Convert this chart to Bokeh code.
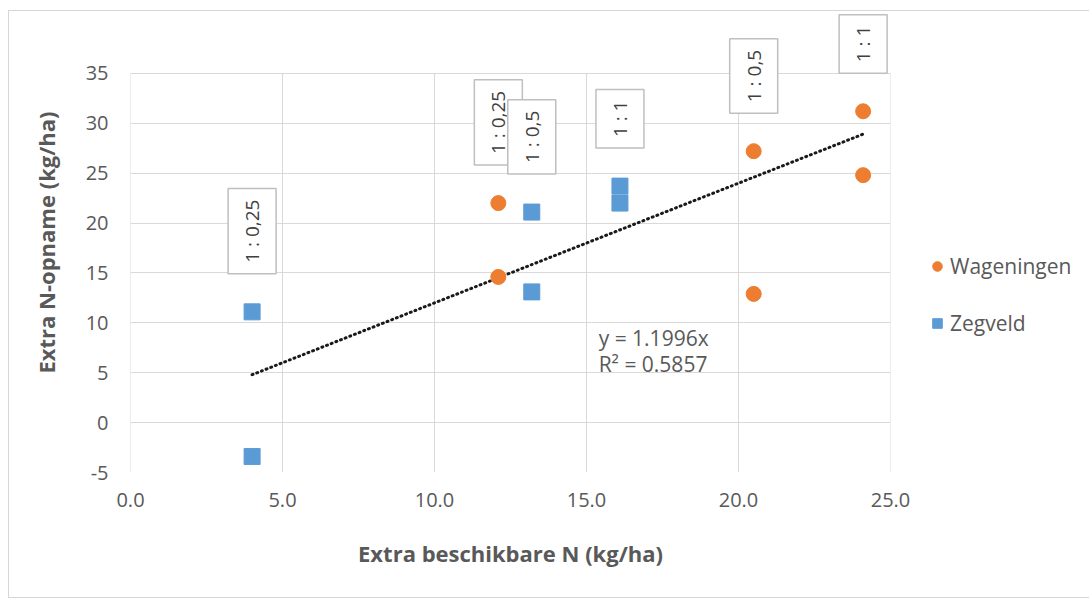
import numpy as np
from bokeh.plotting import figure
from bokeh.models import (Range1d, Label, Legend, LegendItem,
                          NumeralTickFormatter, FixedTicker)
from bokeh.embed import file_html
from bokeh.resources import INLINE

# ---- data ----
wag_x = [12.1, 12.1, 20.5, 20.5, 24.1, 24.1]
wag_y = [22.0, 14.6, 27.2, 12.9, 31.2, 24.8]
zeg_x = [4.0, 4.0, 13.2, 13.2, 16.1, 16.1]
zeg_y = [11.1, -3.4, 21.1, 13.1, 23.7, 22.0]
ratio_x = [4.0, 12.1, 13.2, 16.1, 20.5, 24.1]
ratio_labels = ["1 : 0,25", "1 : 0,25", "1 : 0,5", "1 : 1", "1 : 0,5", "1 : 1"]
slope = 1.1996
r2 = 0.5857
x_ticks = [0, 5, 10, 15, 20, 25]
y_ticks = [-5, 0, 5, 10, 15, 20, 25, 30, 35]

FONT = "Open Sans"
GRAY = "#595959"
GRID = "#d9d9d9"
ORANGE = "#ED7D31"
BLUE = "#5B9BD5"

y_lo, y_hi = y_ticks[0], y_ticks[-1]
x_lo, x_hi = x_ticks[0], x_ticks[-1]

p = figure(width=1080, height=588, frame_width=760, frame_height=460,
           x_range=Range1d(x_lo, x_hi), y_range=Range1d(y_lo, 41.1),
           output_backend="svg", toolbar_location=None,
           min_border_left=121, min_border_right=197, min_border_top=1, min_border_bottom=125)
p.styles = {"border": "1px solid #d6d6d6", "box-sizing": "border-box",
            "margin-left": "8px", "margin-top": "10px"}
p.outline_line_color = None
p.background_fill_color = "white"
p.border_fill_color = "white"

for ax in (p.xaxis, p.yaxis):
    ax.axis_line_color = None
    ax.major_tick_line_color = None
    ax.minor_tick_line_color = None
    ax.major_label_text_font = FONT
    ax.major_label_text_font_size = "20px"
    ax.major_label_text_color = GRAY
    ax.axis_label_text_font = FONT
    ax.axis_label_text_font_size = "22px"
    ax.axis_label_text_font_style = "bold"
    ax.axis_label_text_color = GRAY

p.xaxis.ticker = FixedTicker(ticks=x_ticks)
p.yaxis.ticker = FixedTicker(ticks=y_ticks)
p.yaxis.bounds = (y_lo, y_hi)
p.xaxis.formatter = NumeralTickFormatter(format="0.0")
p.yaxis.formatter = NumeralTickFormatter(format="0")
p.xaxis.axis_label = "Extra beschikbare N (kg/ha)"
p.yaxis.axis_label = "Extra N-opname (kg/ha)"
p.xaxis.major_label_standoff = 14
p.xaxis.axis_label_standoff = 28
p.yaxis.major_label_standoff = 16
p.yaxis.axis_label_standoff = 22

# grid: horizontal lines from the grid, vertical lines limited to the value range
p.xgrid.visible = False
p.ygrid.grid_line_color = GRID
p.ygrid.ticker = FixedTicker(ticks=y_ticks)
p.segment(x0=x_ticks, y0=[y_lo] * len(x_ticks), x1=x_ticks, y1=[y_hi] * len(x_ticks),
          line_color=GRID, line_width=1, level="underlay")

# trendline
all_x = wag_x + zeg_x
tx = [min(all_x), max(all_x)]
ty = [slope * v for v in tx]
p.line(tx, ty, line_color="#1a1a1a", line_width=3, line_dash="1 4", line_cap="round")

r_wag = p.scatter(wag_x, wag_y, marker="circle", size=15, fill_color=ORANGE, line_color=ORANGE)
r_zeg = p.scatter(zeg_x, zeg_y, marker="square", size=16, fill_color=BLUE, line_color=BLUE)

# ratio labels above the highest point at each x
all_y = wag_y + zeg_y
for rx, txt in zip(ratio_x, ratio_labels):
    ty_top = max(yy for xx, yy in zip(all_x, all_y) if xx == rx)
    p.add_layout(Label(x=rx, y=ty_top, text=txt, angle=np.pi / 2,
                       text_align="left", text_baseline="middle", y_offset=38,
                       text_font=FONT, text_font_size="19px", text_color="#404040",
                       background_fill_color="white", border_line_color="#bfbfbf",
                       border_line_width=1.5, padding=11))

p.add_layout(Label(x=15.4, y=8.5, text=f"y = {slope}x", text_font=FONT,
                   text_font_size="21px", text_color=GRAY, text_baseline="middle"))
p.add_layout(Label(x=15.4, y=5.9, text=f"R² = {r2}", text_font=FONT,
                   text_font_size="21px", text_color=GRAY, text_baseline="middle"))

legend = Legend(items=[LegendItem(label="Wageningen", renderers=[r_wag]),
                       LegendItem(label="Zegveld", renderers=[r_zeg])],
                location=(35, 135), margin=0, padding=0, spacing=29,
                glyph_width=24, glyph_height=24, label_height=24, label_standoff=1,
                label_text_font=FONT, label_text_font_size="21px", label_text_color=GRAY,
                border_line_color=None, background_fill_alpha=0)
p.add_layout(legend, "right")

open("out.html", "w").write(file_html(p, INLINE))
